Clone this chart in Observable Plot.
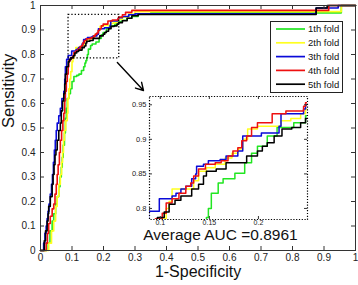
<!DOCTYPE html>
<html><head><meta charset="utf-8">
<script src="https://cdn.jsdelivr.net/npm/d3@7"></script>
<script src="https://cdn.jsdelivr.net/npm/@observablehq/plot@0.6"></script>
<style>
body{margin:0;background:#fff;}
#wrap{position:relative;width:358px;height:285px;font-family:"Liberation Sans",Arial,sans-serif;overflow:hidden;}
#wrap > svg{position:absolute;left:0;top:0;}
#wrap > svg.inset{left:125px;top:90px;}
#wrap > svg.legend{left:270px;top:21px;}
</style></head>
<body><div id="wrap"></div>
<script>
// ---- data ----
const foldNames = ["1th fold","2th fold","3th fold","4th fold","5th fold"];
const foldColors = ["#22e622","#ffff20","#0a0ad8","#ee1010","#000000"];
const fold1 = [[0,0],[0.012,0],[0.02,0.03],[0.03,0.08],[0.037,0.12],[0.042,0.15],[0.048,0.19],[0.053,0.22],[0.058,0.26],[0.062,0.3],[0.066,0.34],[0.069,0.38],[0.072,0.43],[0.076,0.48],[0.079,0.54],[0.082,0.58],[0.085,0.62],[0.09,0.64],[0.095,0.66],[0.1,0.69],[0.106,0.71],[0.115,0.715],[0.122,0.72],[0.13,0.735],[0.137,0.75],[0.141,0.765],[0.144,0.775],[0.147,0.787],[0.149,0.80],[0.152,0.822],[0.159,0.837],[0.164,0.843],[0.176,0.851],[0.186,0.866],[0.193,0.88],[0.199,0.89],[0.209,0.905],[0.219,0.917],[0.236,0.924],[0.248,0.934],[0.26,0.94],[0.275,0.948],[0.29,0.955],[0.31,0.965],[0.35,0.97],[0.955,1],[1,1]];
const fold2 = [[0,0],[0.02,0],[0.026,0.03],[0.035,0.08],[0.042,0.12],[0.048,0.18],[0.053,0.22],[0.058,0.27],[0.063,0.31],[0.067,0.36],[0.07,0.40],[0.073,0.45],[0.076,0.49],[0.08,0.53],[0.085,0.56],[0.087,0.62],[0.09,0.66],[0.093,0.70],[0.096,0.73],[0.1,0.77],[0.103,0.785],[0.106,0.80],[0.109,0.81],[0.112,0.828],[0.134,0.84],[0.139,0.854],[0.147,0.859],[0.156,0.864],[0.166,0.873],[0.173,0.88],[0.179,0.886],[0.184,0.9],[0.189,0.915],[0.199,0.919],[0.223,0.927],[0.233,0.93],[0.243,0.937],[0.248,0.944],[0.26,0.952],[0.28,0.965],[0.30,0.975],[0.955,1],[1,1]];
const fold3 = [[0,0],[0.006,0],[0.01,0.03],[0.014,0.07],[0.018,0.1],[0.021,0.13],[0.024,0.16],[0.027,0.19],[0.031,0.23],[0.035,0.27],[0.038,0.31],[0.041,0.36],[0.044,0.41],[0.047,0.45],[0.05,0.49],[0.053,0.52],[0.058,0.55],[0.063,0.58],[0.068,0.62],[0.074,0.65],[0.077,0.7],[0.079,0.75],[0.083,0.78],[0.088,0.796],[0.099,0.814],[0.112,0.818],[0.116,0.822],[0.121,0.828],[0.126,0.832],[0.132,0.843],[0.136,0.85],[0.137,0.861],[0.144,0.864],[0.149,0.869],[0.161,0.871],[0.167,0.876],[0.179,0.883],[0.184,0.905],[0.203,0.909],[0.221,0.919],[0.223,0.937],[0.246,0.944],[0.248,0.95],[0.26,0.955],[0.28,0.962],[0.30,0.966],[0.875,0.99],[0.945,1],[1,1]];
const fold4 = [[0,0],[0.014,0],[0.018,0.03],[0.022,0.07],[0.026,0.11],[0.031,0.14],[0.037,0.17],[0.042,0.19],[0.046,0.23],[0.05,0.27],[0.053,0.31],[0.056,0.35],[0.06,0.40],[0.063,0.45],[0.067,0.49],[0.071,0.53],[0.074,0.56],[0.077,0.61],[0.079,0.65],[0.082,0.69],[0.085,0.72],[0.088,0.75],[0.09,0.775],[0.095,0.785],[0.102,0.793],[0.106,0.808],[0.112,0.814],[0.119,0.822],[0.126,0.832],[0.131,0.837],[0.134,0.847],[0.139,0.857],[0.146,0.864],[0.156,0.866],[0.162,0.869],[0.169,0.876],[0.174,0.883],[0.179,0.888],[0.183,0.898],[0.188,0.905],[0.193,0.917],[0.199,0.924],[0.214,0.937],[0.228,0.941],[0.246,0.948],[0.248,0.953],[0.26,0.962],[0.27,0.972],[0.29,0.98],[0.915,1],[1,1]];
const fold5 = [[0,0],[0.008,0],[0.012,0.04],[0.016,0.08],[0.021,0.12],[0.024,0.15],[0.026,0.18],[0.031,0.22],[0.037,0.27],[0.04,0.31],[0.043,0.35],[0.046,0.39],[0.049,0.41],[0.053,0.45],[0.058,0.49],[0.063,0.52],[0.066,0.57],[0.07,0.61],[0.074,0.64],[0.077,0.68],[0.079,0.72],[0.083,0.75],[0.088,0.77],[0.092,0.78],[0.097,0.787],[0.104,0.795],[0.109,0.806],[0.115,0.812],[0.121,0.818],[0.132,0.828],[0.139,0.835],[0.144,0.847],[0.147,0.854],[0.157,0.857],[0.167,0.866],[0.188,0.876],[0.199,0.883],[0.204,0.89],[0.209,0.895],[0.216,0.905],[0.224,0.915],[0.234,0.917],[0.243,0.924],[0.248,0.93],[0.26,0.938],[0.275,0.948],[0.29,0.958],[0.31,0.963],[0.875,0.99],[0.91,1],[1,1]];
const folds = [fold1, fold2, fold3, fold4, fold5];
const xTicks = [0,0.1,0.2,0.3,0.4,0.5,0.6,0.7,0.8,0.9,1];
const yTicks = [0,0.1,0.2,0.3,0.4,0.5,0.6,0.7,0.8,0.9,1];
const zoomX = [0.089, 0.25];
const zoomY = [0.784, 0.962];
const insetXTicks = [0.1, 0.15, 0.2];
const insetYTicks = [0.8, 0.85, 0.9, 0.95];
const arrowFrom = [0.244, 0.767];
const arrowTo = [0.327, 0.653];
const aucText = "Average AUC =0.8961";
const xLabel = "1-Specificity";
const yLabel = "Sensitivity";

const fmt = d => String(d);
const lineMarks = (opts) => folds.map((f, i) => Plot.line(f, {x: d => d[0], y: d => d[1], curve: "step-after", stroke: foldColors[i], strokeWidth: 1.6, ...opts}));

const FONT = '"Liberation Sans", Arial, sans-serif';
const main = Plot.plot({
  width: 358, height: 285,
  marginLeft: 40, marginRight: 3, marginTop: 5, marginBottom: 35,
  x: {domain: [0, 1]}, y: {domain: [0, 1]},
  style: {fontFamily: FONT, background: "white", overflow: "visible"},
  marks: [
    ...lineMarks({}),
    Plot.rect([0], {x1: () => zoomX[0], x2: () => zoomX[1], y1: () => zoomY[0], y2: () => zoomY[1], fill: "none", stroke: "#000", strokeWidth: 1.3, strokeDasharray: "1.3,2"}),
    Plot.arrow([0], {x1: () => arrowFrom[0], y1: () => arrowFrom[1], x2: () => arrowTo[0], y2: () => arrowTo[1], stroke: "#000", strokeWidth: 1.4, headLength: 9}),
    Plot.frame({stroke: "#333"}),
    Plot.tickX(xTicks, {x: d => d, insetTop: 241, stroke: "#333"}),
    Plot.tickX(xTicks, {x: d => d, insetBottom: 241, stroke: "#333"}),
    Plot.tickY(yTicks, {y: d => d, insetRight: 311, stroke: "#333"}),
    Plot.tickY(yTicks, {y: d => d, insetLeft: 311, stroke: "#333"}),
    Plot.axisX(xTicks, {tickSize: 0, tickPadding: 3.5, label: null, fontSize: 10, fill: "#222", tickFormat: fmt}),
    Plot.axisY(yTicks, {tickSize: 0, tickPadding: 5, label: null, fontSize: 10, fill: "#222", tickFormat: fmt}),
    Plot.text([xLabel], {frameAnchor: "bottom", text: d => d, dy: 26.5, fontSize: 16, fill: "#111"}),
    Plot.text([yLabel], {frameAnchor: "left", text: d => d, dx: -32, rotate: -90, fontSize: 16.5, fill: "#111"}),
    Plot.text([aucText], {frameAnchor: "bottom", text: d => d, dx: 22.5, dy: -11, fontSize: 15.5, fill: "#111"})
  ]
});

const inset = Plot.plot({
  width: 190, height: 145,
  marginLeft: 24, marginRight: 8, marginTop: 6, marginBottom: 16,
  x: {domain: zoomX}, y: {domain: zoomY},
  style: {fontFamily: FONT, background: "transparent", overflow: "visible"},
  marks: [
    Plot.frame({fill: "white", stroke: "none"}),
    ...lineMarks({clip: true, strokeWidth: 1.5}),
    Plot.frame({stroke: "#000", strokeWidth: 1.2, strokeDasharray: "1.2,1.6"}),
    Plot.tickX(insetXTicks, {x: d => d, insetTop: 120, stroke: "#333"}),
    Plot.tickX(insetXTicks, {x: d => d, insetBottom: 120, stroke: "#333"}),
    Plot.tickY(insetYTicks, {y: d => d, insetRight: 155, stroke: "#333"}),
    Plot.tickY(insetYTicks, {y: d => d, insetLeft: 155, stroke: "#333"}),
    Plot.axisX(insetXTicks, {tickSize: 0, tickPadding: 1, label: null, fontSize: 7, fill: "#222", tickFormat: fmt}),
    Plot.axisY(insetYTicks, {tickSize: 0, tickPadding: 3, label: null, fontSize: 7.5, fill: "#222", tickFormat: fmt})
  ]
});
inset.classList.add("inset");

const wrap = document.getElementById("wrap");
wrap.appendChild(main);
wrap.appendChild(inset);

// legend box
const legSvg = d3.create("svg").attr("class", "legend").attr("width", 74).attr("height", 73)
  .style("font-family", FONT).style("font-size", "9.5px");
legSvg.append("rect").attr("x", 0.5).attr("y", 0.5).attr("width", 72).attr("height", 71)
  .attr("fill", "white").attr("stroke", "#222");
foldNames.forEach((n, i) => {
  const y = 8 + i * 13.8;
  legSvg.append("line").attr("x1", 6).attr("x2", 35).attr("y1", y).attr("y2", y)
    .attr("stroke", foldColors[i]).attr("stroke-width", 1.7);
  legSvg.append("text").attr("x", 38).attr("y", y).attr("dy", "0.35em").attr("fill", "#111").text(n);
});
wrap.appendChild(legSvg.node());
</script>
</body></html>
